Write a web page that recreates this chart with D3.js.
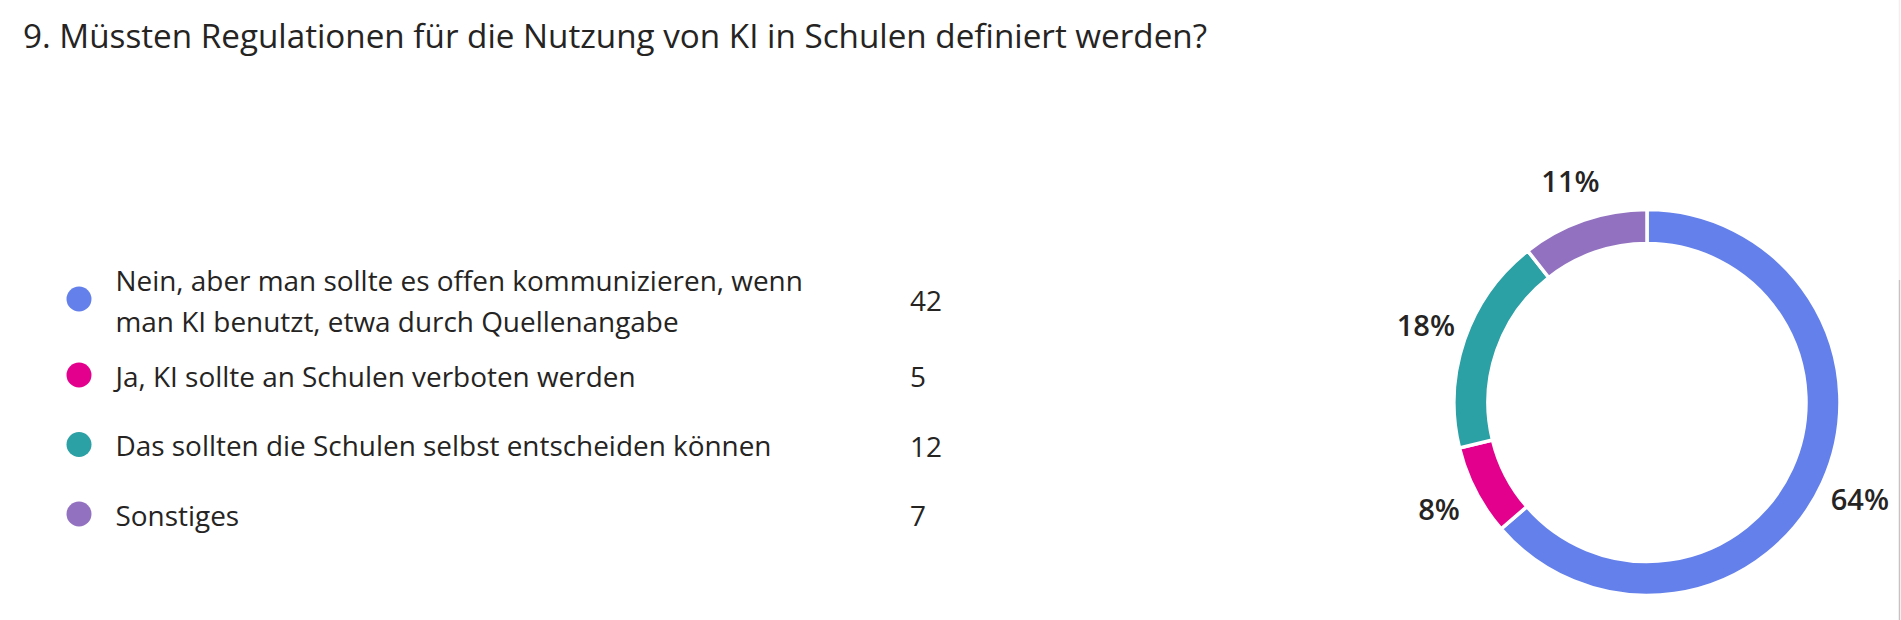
<!DOCTYPE html>
<html>
<head>
<meta charset="utf-8">
<script src="https://cdn.jsdelivr.net/npm/d3@7"></script>
<style>
  html, body { margin: 0; padding: 0; background: #ffffff; }
  svg { display: block; }
  text { font-family: "Open Sans", "Noto Sans", "DejaVu Sans", sans-serif; fill: #252423; }
</style>
</head>
<body>
<svg id="chart" width="1901" height="620"></svg>
<script>
// ---- data ----
const title = "9. Müssten Regulationen für die Nutzung von KI in Schulen definiert werden?";
const categories = [
  "Nein, aber man sollte es offen kommunizieren, wenn\nman KI benutzt, etwa durch Quellenangabe",
  "Ja, KI sollte an Schulen verboten werden",
  "Das sollten die Schulen selbst entscheiden können",
  "Sonstiges"
];
const counts = [42, 5, 12, 7];
const colors = ["#6480EA", "#E3008C", "#2BA0A5", "#9272C0"];

// ---- layout ----
const W = 1901, H = 620;
const svg = d3.select("#chart");
svg.append("rect").attr("width", W).attr("height", H).attr("fill", "#ffffff");

// right edge divider
svg.append("line").attr("x1", 1899.5).attr("x2", 1899.5).attr("y1", 0).attr("y2", 280)
  .attr("stroke", "#f0f0f0").attr("stroke-width", 1.5);
svg.append("line").attr("x1", 1899.5).attr("x2", 1899.5).attr("y1", 280).attr("y2", 620)
  .attr("stroke", "#c4c4c4").attr("stroke-width", 1.5);

function fitWidth(sel, target) {
  const w = sel.node().getComputedTextLength();
  sel.attr("textLength", target).attr("lengthAdjust", "spacingAndGlyphs");
  return w;
}

// title
const t = svg.append("text").attr("x", 23).attr("y", 47.5)
  .attr("font-size", 33).attr("fill", "#323130").text(title);
fitWidth(t, 1184);

// legend
const rowY = d3.scaleOrdinal().domain(d3.range(categories.length)).range([299, 375, 444.5, 514]);
const legend = svg.append("g");
const rows = legend.selectAll("g.row").data(categories).join("g").attr("class", "row");
rows.append("circle")
  .attr("cx", 79).attr("cy", (d, i) => rowY(i)).attr("r", 12.5)
  .attr("fill", (d, i) => colors[i]);

const fs = 28;
const probe = svg.append("text").attr("font-size", fs).text(categories[2]);
const probeW = probe.node().getComputedTextLength();
probe.remove();
const squeeze = 656 / probeW;

rows.each(function(d, i) {
  const lines = d.split("\n");
  const g = d3.select(this);
  const lineH = 40.5;
  const y0 = rowY(i) + 11.5 - (lines.length - 1) * lineH / 2 + (lines.length > 1 ? 1 : 0);
  lines.forEach((ln, j) => {
    const tx = g.append("text").attr("x", 115.5).attr("y", y0 + j * lineH)
      .attr("font-size", fs).text(ln);
    const w = tx.node().getComputedTextLength();
    tx.attr("textLength", w * squeeze).attr("lengthAdjust", "spacingAndGlyphs");
  });
  const num = g.append("text").attr("x", 910).attr("y", rowY(i) + 12)
    .attr("font-size", fs).text(counts[i]);
  const nw = num.node().getComputedTextLength();
  num.attr("textLength", nw * squeeze).attr("lengthAdjust", "spacingAndGlyphs");
});

// donut
const cx = 1647, cy = 402.5, rOuter = 193, rInner = 159;
const total = d3.sum(counts);
const pie = d3.pie().sort(null).value(d => d).padAngle(0);
const arcs = pie(counts);
const arc = d3.arc().innerRadius(rInner).outerRadius(rOuter);
const donut = svg.append("g").attr("transform", `translate(${cx},${cy})`);
donut.selectAll("path").data(arcs).join("path")
  .attr("d", arc)
  .attr("fill", (d, i) => colors[i])
  .attr("stroke", "#ffffff").attr("stroke-width", 3.5).attr("stroke-linejoin", "miter");

const labelArc = d3.arc().innerRadius(234).outerRadius(234);
donut.selectAll("text.pct").data(arcs).join("text").attr("class", "pct")
  .attr("transform", d => { const c = labelArc.centroid(d); return `translate(${c[0]},${c[1]})`; })
  .attr("text-anchor", "middle").attr("dy", "0.36em")
  .attr("font-size", 29).attr("font-weight", 600).attr("fill", "#201f1e")
  .text(d => Math.round(d.data / total * 100) + "%");
</script>
</body>
</html>
